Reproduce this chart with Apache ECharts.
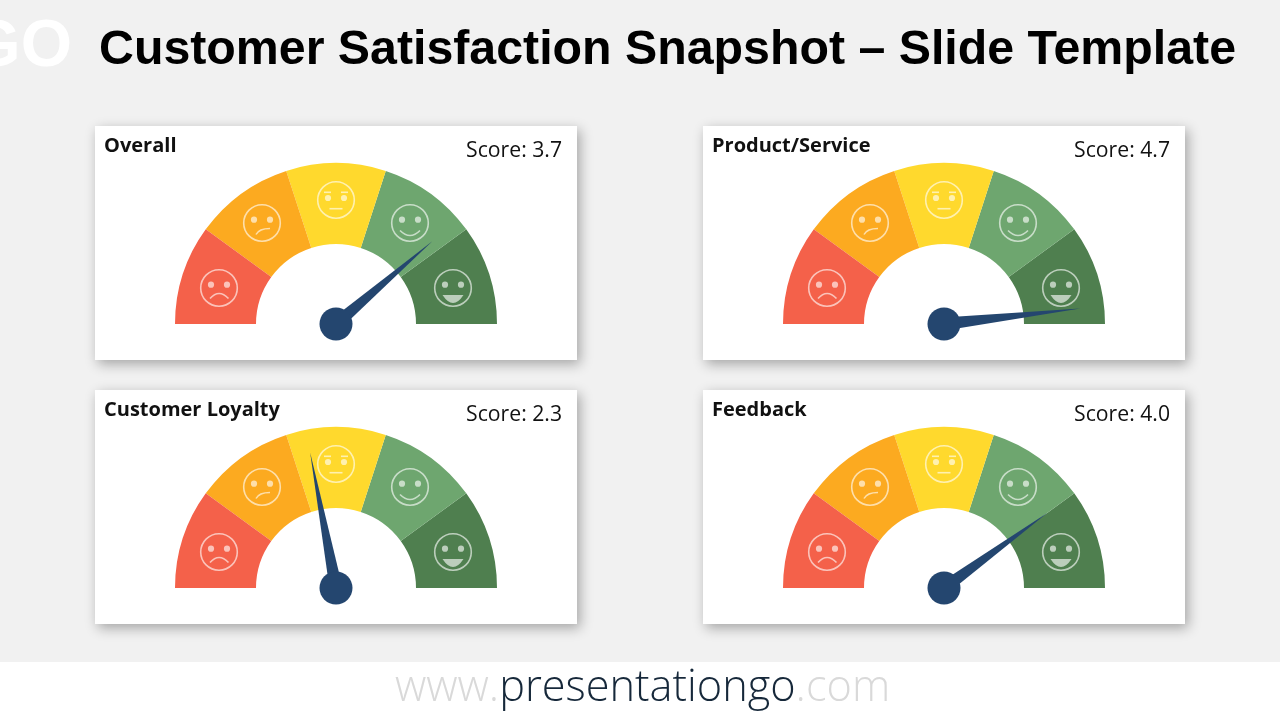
<!DOCTYPE html>
<html><head><meta charset="utf-8">
<style>html,body{margin:0;padding:0;background:#f1f1f1}#c{width:1280px;height:720px}</style>
<script src="https://cdn.jsdelivr.net/npm/echarts@6/dist/echarts.min.js"></script>
</head><body><div id="c"></div>
<script>
const chartTitle = 'Customer Satisfaction Snapshot – Slide Template';
const panelTitles = ['Overall', 'Product/Service', 'Customer Loyalty', 'Feedback'];
const scores = ['3.7', '4.7', '2.3', '4.0'];
// where each needle actually points on the 0-5 dial
const needleReadings = [3.87, 4.82, 2.2, 4.0];
const needleLengths = [127, 137, 138, 128];
const bandLimits = [0.2, 0.4, 0.6, 0.8, 1];
const bandColors = ['#F4614A', '#FCAA20', '#FFD92D', '#6EA66F', '#4F7F4F'];
const panelOrigins = [[95, 126], [703, 126], [95, 390], [703, 390]];

const PW = 482, PH = 234, CX = 241, CY = 198;
const R = 161, W = 81;
const faceOffsets = [[-117, -36], [-74, -101], [0, -124], [74, -101], [117, -36]];
const INK = 'rgba(255,255,255,0.62)';

function faceParts(i) {
  const stroke = { fill: 'none', stroke: INK, lineWidth: 1.6 };
  const curve = (x1, y1, cx, cy, x2, y2, style) => ({ type: 'bezierCurve', shape: { x1, y1, cpx1: cx, cpy1: cy, x2, y2 }, style });
  const seg = (x1, y1, x2, y2) => ({ type: 'line', shape: { x1, y1, x2, y2 }, style: { stroke: INK, lineWidth: 1.6 } });
  const eyeY = i === 2 ? -2 : -3.3;
  const parts = [
    { type: 'circle', shape: { cx: 0, cy: 0, r: 18.3 }, style: stroke },
    { type: 'circle', shape: { cx: -8, cy: eyeY, r: 3.1 }, style: { fill: INK } },
    { type: 'circle', shape: { cx: 8, cy: eyeY, r: 3.1 }, style: { fill: INK } }
  ];
  if (i === 0) parts.push(curve(-9, 10.5, 0, 0.5, 9.5, 10.5, stroke));
  if (i === 1) parts.push(curve(-6, 11.5, -3, 5.5, 8, 5.5, stroke));
  if (i === 2) parts.push(seg(-12, -7.7, -5, -7.7), seg(5, -7.7, 12, -7.7), seg(-6.5, 8.7, 6.5, 8.7));
  if (i === 3) parts.push(curve(-10, 7.5, 0, 17.5, 10, 7.5, stroke));
  if (i === 4) parts.push(curve(-10.5, 7, 0, 23, 10.5, 7, { fill: INK, stroke: 'none' }));
  return parts;
}

const graphic = [
  { type: 'rect', shape: { x: 0, y: 662, width: 1280, height: 58 }, style: { fill: '#fff' }, z: 0 },
  { type: 'text', x: 72, y: 48, z: 1, style: { text: 'GO', fill: '#fff', font: 'bold 66px "Liberation Sans"', align: 'right', verticalAlign: 'middle' } },
  { type: 'text', x: 99, y: 50.5, z: 1, style: { text: chartTitle, fill: '#000', font: 'bold 48.3px "Liberation Sans"', align: 'left', verticalAlign: 'middle' } },
  { type: 'text', x: 395, y: 688.5, z: 1, style: {
      text: '{a|www.}{b|presentationgo}{a|.com}', align: 'left', verticalAlign: 'middle',
      rich: {
        a: { fill: '#d9d9d9', font: '300 43.3px "Open Sans"' },
        b: { fill: '#16283a', font: '300 43.3px "Open Sans"' }
      } } }
];
const series = [];

panelOrigins.forEach((o, p) => {
  const cx = o[0] + CX, cy = o[1] + CY;
  graphic.push({ type: 'rect', shape: { x: o[0], y: o[1], width: PW, height: PH }, z: 0,
    style: { fill: '#fff', shadowBlur: 12, shadowOffsetX: 3, shadowOffsetY: 4, shadowColor: 'rgba(0,0,0,0.32)' } });
  graphic.push({ type: 'text', x: o[0] + 9, y: o[1] + 20, z: 1, style: { text: panelTitles[p], fill: '#111', font: 'bold 20px "Open Sans"', align: 'left', verticalAlign: 'middle' } });
  graphic.push({ type: 'text', x: o[0] + 467, y: o[1] + 25, z: 1, style: { text: 'Score: ' + scores[p], fill: '#111', font: '21.2px "Open Sans"', align: 'right', verticalAlign: 'middle' } });
  bandColors.forEach((_, i) => {
    graphic.push({ type: 'group', x: cx + faceOffsets[i][0], y: cy + faceOffsets[i][1],
      children: faceParts(i).map(e => Object.assign(e, { z: 3 })) });
  });
  const common = { type: 'gauge', center: [cx, cy], radius: R, startAngle: 180, endAngle: 0, min: 0, max: 5, splitNumber: 5,
    axisTick: { show: false }, splitLine: { show: false }, axisLabel: { show: false }, detail: { show: false }, title: { show: false }, silent: true };
  series.push(Object.assign({}, common, { z: 2,
    axisLine: { lineStyle: { width: W, color: bandLimits.map((l, i) => [l, bandColors[i]]) } },
    pointer: { show: false }, anchor: { show: false }, data: [{ value: needleReadings[p] }] }));
  series.push(Object.assign({}, common, { z: 5,
    axisLine: { show: false },
    progress: { show: false },
    pointer: { show: true, icon: 'triangle', length: needleLengths[p], width: 13, offsetCenter: [0, 0], itemStyle: { color: '#24466F' } },
    anchor: { show: true, showAbove: true, size: 33, itemStyle: { color: '#24466F' } },
    data: [{ value: needleReadings[p] }] }));
});

const chart = echarts.init(document.getElementById('c'), null, { renderer: 'canvas', width: 1280, height: 720 });
chart.setOption({ backgroundColor: '#f1f1f1', animation: false, graphic: { elements: graphic }, series });
</script></body></html>
